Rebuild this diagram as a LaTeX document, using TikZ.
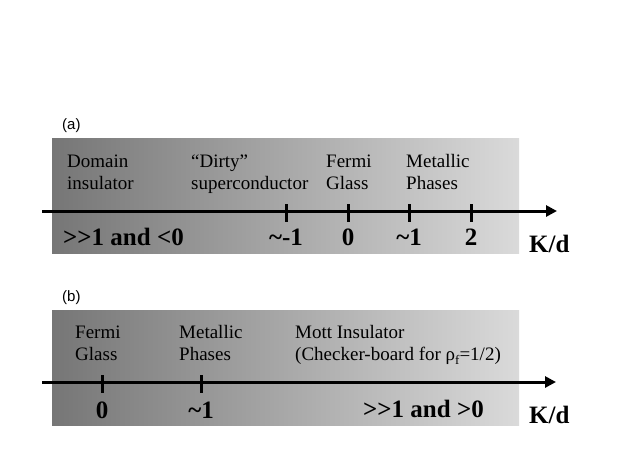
\documentclass[tikz,border=0pt]{standalone}
\usepackage{fontspec}
\setmainfont{Liberation Serif}
\newfontfamily\arialfont{Liberation Sans}
\usetikzlibrary{arrows.meta}
\definecolor{gleft}{RGB}{118,118,118}
\definecolor{gright}{RGB}{218,218,218}
\tikzset{
  panel/.style={left color=gleft, right color=gright, draw=none},
  axisline/.style={line width=3pt, -{Triangle[length=11pt,width=11pt]}},
  tickline/.style={line width=3pt},
  lab/.style={font=\fontsize{19}{22}\selectfont, align=left, inner sep=0pt, anchor=base west},
  val/.style={font=\fontsize{25}{28}\selectfont\bfseries, inner sep=0pt, anchor=base},
  valw/.style={font=\fontsize{25}{28}\selectfont\bfseries, inner sep=0pt, anchor=base west},
  tag/.style={font=\arialfont\fontsize{15}{18}\selectfont, inner sep=0pt, anchor=base west}
}
\begin{document}
\begin{tikzpicture}[x=1pt,y=-1pt]
\useasboundingbox (0,0) rectangle (623,467);
% ---------- panel (a) ----------
\node[tag] (ta) at (62,129) {(a)};
\shade[panel] (52,138) rectangle (519,253);
\coordinate (as) at (42,211);
\coordinate (ae) at (557,211);
\draw[axisline] (as) -- (ae);
\foreach \x in {286,348,409,471} \draw[tickline] (\x,204) -- (\x,222);
\node[lab] (dom) at (67,189) {Domain\\insulator};
\node[lab] (dirty) at (191,189) {“Dirty”\\superconductor};
\node[lab] (fga) at (326,189) {Fermi\\Glass};
\node[lab] (mpa) at (406,189) {Metallic\\Phases};
\node[valw] (ra) at (63,245) {>{}>1 and <0};
\node[val] (vm1) at (286,245) {\textasciitilde-1};
\node[val] (v0a) at (348,245) {0};
\node[val] (v1a) at (409,245) {\textasciitilde1};
\node[val] (v2a) at (471,245) {2};
\node[valw] (kda) at (529,252) {K/d};
% ---------- panel (b) ----------
\node[tag] (tb) at (62,301) {(b)};
\shade[panel] (52,310) rectangle (519,425);
\coordinate (bs) at (42,382);
\coordinate (be) at (556,382);
\draw[axisline] (bs) -- (be);
\foreach \x in {102,201} \draw[tickline] (\x,375) -- (\x,393);
\node[lab] (fgb) at (75,360) {Fermi\\Glass};
\node[lab] (mpb) at (179,360) {Metallic\\Phases};
\node[lab] (mott) at (295,360) {Mott Insulator\\(Checker-board for ρ\raisebox{-4pt}{\fontsize{13}{13}\selectfont f}=1/2)};
\node[val] (v0b) at (102,418) {0};
\node[val] (v1b) at (201,418) {\textasciitilde1};
\node[valw] (rb) at (363,417) {>{}>1 and >0};
\node[valw] (kdb) at (529,423) {K/d};
\end{tikzpicture}
\end{document}
